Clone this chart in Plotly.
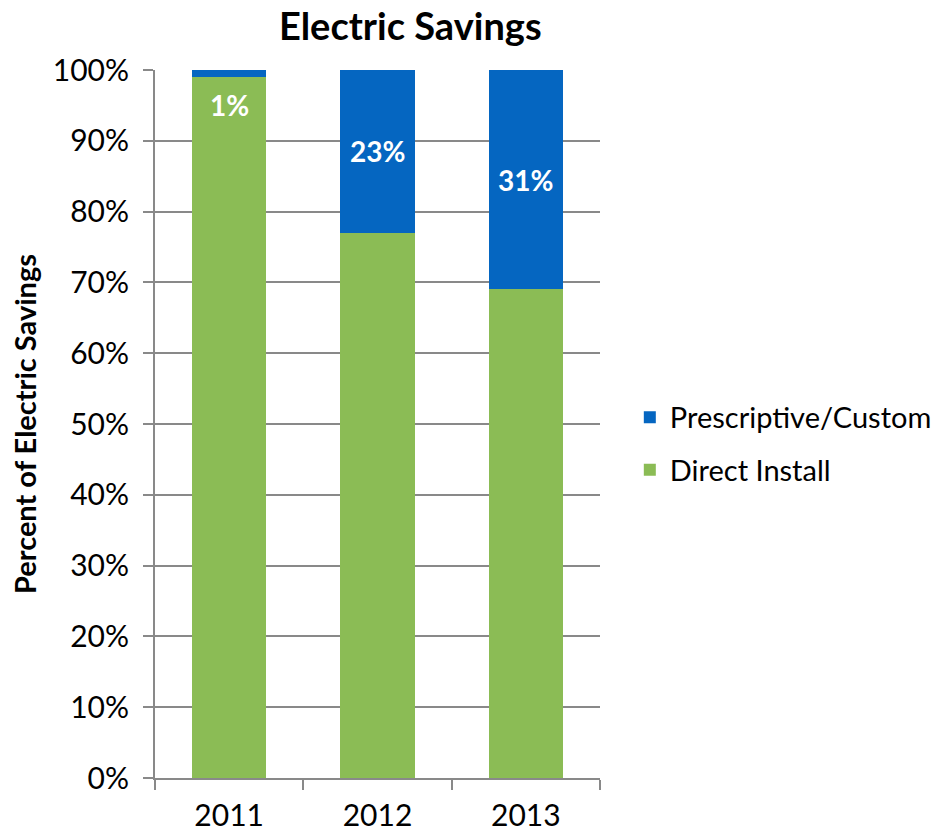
import plotly.graph_objects as go

years = ["2011", "2012", "2013"]
direct_install = [99, 77, 69]
prescriptive_custom = [1, 23, 31]
y_ticks = [0, 10, 20, 30, 40, 50, 60, 70, 80, 90, 100]
y_tick_labels = [f"{v}%" for v in y_ticks]

GREEN = "#8BBC55"
BLUE = "#0566C1"
GRID = "#898989"
FONT = "Lato, Open Sans, sans-serif"

fig = go.Figure()
fig.add_trace(go.Bar(
    x=years, y=direct_install, name="Direct Install",
    marker=dict(color=GREEN, line=dict(width=0)),
    legendgroup="di", legendrank=2, hoverinfo="skip",
))
fig.add_trace(go.Bar(
    x=years, y=prescriptive_custom, name="Prescriptive/Custom",
    marker=dict(color=BLUE, line=dict(width=0)),
    legendgroup="pc", legendrank=1, hoverinfo="skip",
))

# value labels for the prescriptive share, centred in the segment
# (pushed down into the bar when the segment is too thin)
for i, pc in enumerate(prescriptive_custom):
    fig.add_annotation(
        x=i, y=100 - max(pc, 10) / 2, text=f"<b>{pc}%</b>",
        xref="x", yref="y",
        showarrow=False, font=dict(family=FONT, size=28, color="white"),
    )

fig.update_layout(
    width=936, height=833,
    margin=dict(l=155, r=336, t=70, b=55, autoexpand=False),
    paper_bgcolor="white", plot_bgcolor="white",
    barmode="stack", bargap=0.5,
    title=dict(text="<b>Electric Savings</b>", x=(155 + 600) / 2 / 936 + 0.035,
               xanchor="center", y=1 - 27 / 833, yanchor="middle",
               font=dict(family=FONT, size=38, color="black")),
    font=dict(family=FONT, color="black"),
    legend=dict(
        x=1.067, xanchor="left", y=0.472, yanchor="middle",
        traceorder="grouped", tracegroupgap=12,
        font=dict(family=FONT, size=29, color="black"),
        itemwidth=30,
    ),
    showlegend=True,
)

fig.update_xaxes(
    type="category", tickson="boundaries",
    ticks="outside", ticklen=10, tickwidth=2, tickcolor=GRID,
    ticklabelstandoff=10,
    showline=True, linecolor=GRID, linewidth=2,
    showgrid=False,
    tickfont=dict(family=FONT, size=30, color="black"),
    range=[-0.5, 2.5],
)
fig.update_yaxes(
    range=[0, 100], tickvals=y_ticks, ticktext=y_tick_labels,
    ticks="outside", ticklen=10, tickwidth=2, tickcolor=GRID,
    ticklabelstandoff=8,
    showline=True, linecolor=GRID, linewidth=2,
    showgrid=True, gridcolor=GRID, gridwidth=2,
    zeroline=False,
    tickfont=dict(family=FONT, size=30, color="black"),
    title=dict(text="<b>Percent of Electric Savings</b>", standoff=8,
               font=dict(family=FONT, size=29, color="black")),
)

fig.write_html("out.html")
